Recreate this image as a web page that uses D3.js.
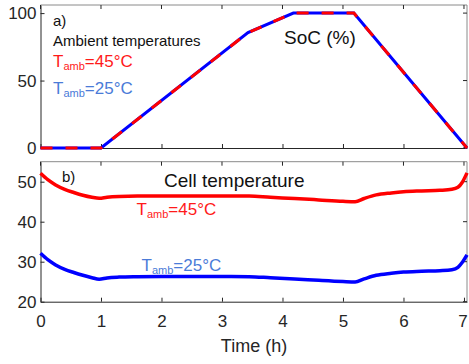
<!DOCTYPE html>
<html>
<head>
<meta charset="utf-8">
<script src="https://cdn.jsdelivr.net/npm/d3@7"></script>
<style>
  body { margin: 0; background: #fff; }
  svg { font-family: "Liberation Sans", Arial, sans-serif; }
  .axis text { fill: #262626; font-size: 17px; font-family: "Liberation Sans", Arial, sans-serif; }
  .axis path, .axis line { stroke: #262626; }
</style>
</head>
<body>
<script>
// SoC profile (same for both ambient temperatures)
var socTime = [0, 1, 3.43, 4.18, 5.18, 7.05];
var socValues = [0, 0, 85.5, 100, 100, 0];

// cell temperature
var tempTime = [0, 0.12, 0.25, 0.4, 0.55, 0.7, 0.85, 0.97, 1.1, 1.3, 1.6, 2.0, 2.5, 3.0, 3.45, 3.8, 4.2, 4.6, 5.0, 5.2, 5.35, 5.55, 5.8, 6.0, 6.3, 6.6, 6.8, 6.9, 6.97, 7.05];
var temp45 = [52.1, 50.5, 49.2, 48.1, 47.3, 46.6, 46.1, 45.85, 46.1, 46.3, 46.4, 46.4, 46.45, 46.45, 46.4, 46.1, 45.8, 45.45, 45.1, 45.0, 45.8, 46.7, 47.2, 47.5, 47.7, 47.85, 48.1, 48.6, 49.8, 52.2];
var temp25 = [32.1, 30.5, 29.2, 28.1, 27.3, 26.6, 26.0, 25.6, 25.95, 26.15, 26.25, 26.3, 26.3, 26.3, 26.25, 26.0, 25.7, 25.35, 25.05, 24.95, 25.7, 26.6, 27.1, 27.4, 27.6, 27.75, 28.0, 28.6, 29.8, 31.7];

var xTicks = [0, 1, 2, 3, 4, 5, 6, 7];
var socTicks = [0, 50, 100];
var tempTicks = [20, 30, 40, 50];

var W = 469, H = 364;
var left = 40.5, right = 467;

var svg = d3.select("body").append("svg")
  .attr("width", W)
  .attr("height", H);

var x = d3.scaleLinear().domain([0, 7.05]).range([left, right]);
var ySoc = d3.scaleLinear().domain([0, 106]).range([148, 5]);
var yTemp = d3.scaleLinear().domain([20, 55]).range([301.7, 161.7]);

function frame(y, yticks, showX) {
  var y0 = y.range()[0], y1 = y.range()[1];
  // top and right box lines
  svg.append("line").attr("x1", left).attr("x2", right).attr("y1", y1).attr("y2", y1)
    .attr("stroke", "#8a8a8a");
  svg.append("line").attr("x1", right).attr("x2", right).attr("y1", y1).attr("y2", y0)
    .attr("stroke", "#8a8a8a");
  // inward ticks on top and right
  svg.selectAll(null).data(xTicks).enter().append("line")
    .attr("x1", function (d) { return x(d); }).attr("x2", function (d) { return x(d); })
    .attr("y1", y1).attr("y2", y1 + 4).attr("stroke", "#262626");
  svg.selectAll(null).data(yticks).enter().append("line")
    .attr("x1", right).attr("x2", right - 4)
    .attr("y1", function (d) { return y(d); }).attr("y2", function (d) { return y(d); })
    .attr("stroke", "#262626");

  svg.append("g").attr("class", "axis")
    .attr("transform", "translate(" + left + ",0)")
    .call(d3.axisLeft(y).tickValues(yticks).tickFormat(d3.format("d"))
      .tickSizeInner(-4).tickSizeOuter(0).tickPadding(4));

  var xa = svg.append("g").attr("class", "axis")
    .attr("transform", "translate(0," + y0 + ")")
    .call(d3.axisBottom(x).tickValues(xTicks).tickFormat(d3.format("d"))
      .tickSizeInner(-4).tickSizeOuter(0).tickPadding(13));
  if (!showX) xa.selectAll("text").remove();
  else xa.selectAll("text").filter(function (d) { return d === 7; }).attr("dx", -1.5);
}

frame(ySoc, socTicks, false);
frame(yTemp, tempTicks, true);

svg.selectAll(".domain").attr("stroke", "#262626");

// SoC lines: blue solid under red dashed
var socData = socTime.map(function (t, i) { return [t, socValues[i]]; });
var socLine = d3.line()
  .x(function (d) { return x(d[0]); })
  .y(function (d) { return ySoc(d[1]); });

svg.append("path").datum(socData)
  .attr("d", socLine).attr("fill", "none")
  .attr("stroke", "#0000ff").attr("stroke-width", 3);
svg.append("path").datum(socData)
  .attr("d", socLine).attr("fill", "none")
  .attr("stroke", "#ff0000").attr("stroke-width", 3)
  .attr("stroke-dasharray", "12,13");

// temperature lines
var tempLine = d3.line()
  .x(function (d) { return x(d[0]); })
  .y(function (d) { return yTemp(d[1]); })
  .curve(d3.curveMonotoneX);

svg.append("path").datum(tempTime.map(function (t, i) { return [t, temp45[i]]; }))
  .attr("d", tempLine).attr("fill", "none")
  .attr("stroke", "#ff0000").attr("stroke-width", 3.5);
svg.append("path").datum(tempTime.map(function (t, i) { return [t, temp25[i]]; }))
  .attr("d", tempLine).attr("fill", "none")
  .attr("stroke", "#0000ff").attr("stroke-width", 3.5);

// labels
function label(xp, yp, txt, size, color) {
  return svg.append("text").attr("x", xp).attr("y", yp)
    .style("font-size", size + "px").attr("fill", color).text(txt);
}
function tamb(xp, yp, val, color) {
  var t = svg.append("text").attr("x", xp).attr("y", yp).attr("fill", color)
    .style("font-size", "17px");
  t.append("tspan").text("T");
  t.append("tspan").text("amb").style("font-size", "11px").attr("dy", 3);
  t.append("tspan").text("=" + val + "°C").attr("dy", -3);
}

label(53, 26, "a)", 15, "#111");
label(53, 46, "Ambient temperatures", 15, "#111");
tamb(53, 67, 45, "#ff1a1a");
tamb(53, 94, 25, "#4a7bd8");
label(284, 43.5, "SoC (%)", 19, "#111");

label(62, 182, "b)", 15, "#111");
label(164, 186.5, "Cell temperature", 19, "#111");
tamb(136.5, 215, 45, "#ff1a1a");
tamb(141.5, 271, 25, "#4a7bd8");

svg.append("text").attr("x", 254).attr("y", 351.5)
  .attr("text-anchor", "middle").attr("fill", "#262626")
  .style("font-size", "18px").text("Time (h)");
</script>
</body>
</html>
